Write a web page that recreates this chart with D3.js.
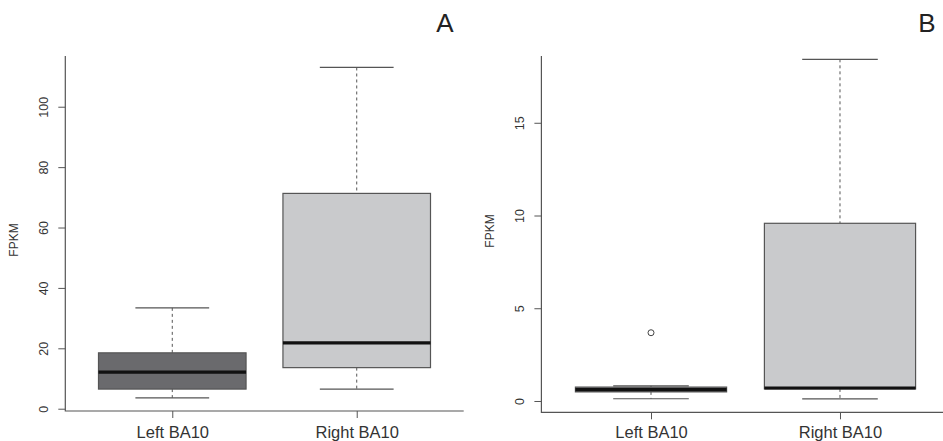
<!DOCTYPE html>
<html>
<head>
<meta charset="utf-8">
<script src="https://cdn.jsdelivr.net/npm/d3@7"></script>
<style>
    body { margin: 0; background: #fff; }
    svg { display: block; font-family: "Liberation Sans", Arial, sans-serif; }
    .axis text { fill: #333; }
    .axis line, .axis path { stroke: #555; }
</style>
</head>
<body>
<svg id="chart" width="943" height="441"></svg>
<script>
// group names
const categories = ['Left BA10', 'Right BA10'];

// panel A: FPKM summary per group
const aLow = [3.6, 6.5];
const aQ1 = [6.5, 13.6];
const aMedian = [12.1, 21.8];
const aQ3 = [18.5, 71.3];
const aHigh = [33.4, 113.0];
const aOutliers = [[], []];
const aTicks = [0, 20, 40, 60, 80, 100];

// panel B: FPKM summary per group
const bLow = [0.12, 0.11];
const bQ1 = [0.49, 0.65];
const bMedian = [0.61, 0.70];
const bQ3 = [0.75, 9.58];
const bHigh = [0.82, 18.42];
const bOutliers = [[3.68], []];
const bTicks = [0, 5, 10, 15];

const boxFill = ['#6a6a6d', '#c9cacc'];

const panels = [
    {
        letter: 'A', letterX: 445,
        left: 65.3, right: 463.7, top: 56, bottom: 411,
        yDomain: [-0.76, 116.8], ylabelY: 240,
        low: aLow, q1: aQ1, median: aMedian, q3: aQ3, high: aHigh,
        outliers: aOutliers, ticks: aTicks,
    },
    {
        letter: 'B', letterX: 927,
        left: 541.4, right: 949.6, top: 56, bottom: 412.3,
        yDomain: [-0.61, 18.6], ylabelY: 231,
        low: bLow, q1: bQ1, median: bMedian, q3: bQ3, high: bHigh,
        outliers: bOutliers, ticks: bTicks,
    },
];

const svg = d3.select('#chart');

panels.forEach((p) => {
    const g = svg.append('g');
    const x = d3.scaleLinear([0.42, 2.58], [p.left, p.right]);
    const y = d3.scaleLinear(p.yDomain, [p.bottom, p.top]);
    const boxW = x(1.8) - x(1);
    const capW = boxW / 2;

    // L-shaped frame
    g.append('path')
        .attr('d', `M${p.left},${p.top}V${p.bottom}H${p.right}`)
        .attr('fill', 'none')
        .attr('stroke', '#555')
        .attr('stroke-width', 1.2);

    // y axis
    const yAxis = g.append('g')
        .attr('class', 'axis')
        .attr('transform', `translate(${p.left},0)`)
        .call(d3.axisLeft(y).tickValues(p.ticks).tickSize(7).tickSizeOuter(0));
    yAxis.select('.domain').remove();
    yAxis.selectAll('text')
        .attr('x', null)
        .attr('dy', null)
        .attr('transform', 'translate(-17,0) rotate(-90)')
        .attr('text-anchor', 'middle')
        .attr('font-size', 12.5);

    // x axis
    const xAxis = g.append('g')
        .attr('class', 'axis')
        .attr('transform', `translate(0,${p.bottom})`)
        .call(d3.axisBottom(x).tickValues([1, 2]).tickFormat((d) => categories[d - 1]).tickSize(7).tickSizeOuter(0));
    xAxis.select('.domain').remove();
    xAxis.selectAll('text')
        .attr('y', null)
        .attr('dy', null)
        .attr('transform', `translate(0,${438 - p.bottom})`)
        .attr('font-size', 16.5)
        .attr('fill', '#222');

    // y label
    g.append('text')
        .attr('transform', `translate(${p.left - 47},${p.ylabelY}) rotate(-90)`)
        .attr('text-anchor', 'middle')
        .attr('font-size', 12)
        .attr('fill', '#333')
        .text('FPKM');

    // panel letter
    g.append('text')
        .attr('x', p.letterX)
        .attr('y', 32)
        .attr('text-anchor', 'middle')
        .attr('font-size', 26)
        .attr('fill', '#222')
        .text(p.letter);

    categories.forEach((c, i) => {
        const cx = x(i + 1);
        const bg = g.append('g');

        // whiskers
        bg.append('line')
            .attr('x1', cx).attr('x2', cx)
            .attr('y1', y(p.high[i])).attr('y2', y(p.q3[i]))
            .attr('stroke', '#555').attr('stroke-dasharray', '3,3');
        bg.append('line')
            .attr('x1', cx).attr('x2', cx)
            .attr('y1', y(p.q1[i])).attr('y2', y(p.low[i]))
            .attr('stroke', '#555').attr('stroke-dasharray', '3,3');

        // caps
        [p.high[i], p.low[i]].forEach((v) => {
            bg.append('line')
                .attr('x1', cx - capW / 2).attr('x2', cx + capW / 2)
                .attr('y1', y(v)).attr('y2', y(v))
                .attr('stroke', '#555').attr('stroke-width', 1.2);
        });

        // box
        bg.append('rect')
            .attr('x', cx - boxW / 2)
            .attr('y', y(p.q3[i]))
            .attr('width', boxW)
            .attr('height', y(p.q1[i]) - y(p.q3[i]))
            .attr('fill', boxFill[i])
            .attr('stroke', '#555')
            .attr('stroke-width', 1.2);

        // median
        bg.append('line')
            .attr('x1', cx - boxW / 2).attr('x2', cx + boxW / 2)
            .attr('y1', y(p.median[i])).attr('y2', y(p.median[i]))
            .attr('stroke', '#111').attr('stroke-width', 3.2);

        // outliers
        bg.selectAll('circle')
            .data(p.outliers[i])
            .enter()
            .append('circle')
            .attr('cx', cx)
            .attr('cy', (d) => y(d))
            .attr('r', 3)
            .attr('fill', 'none')
            .attr('stroke', '#444');
    });
});
</script>
</body>
</html>
